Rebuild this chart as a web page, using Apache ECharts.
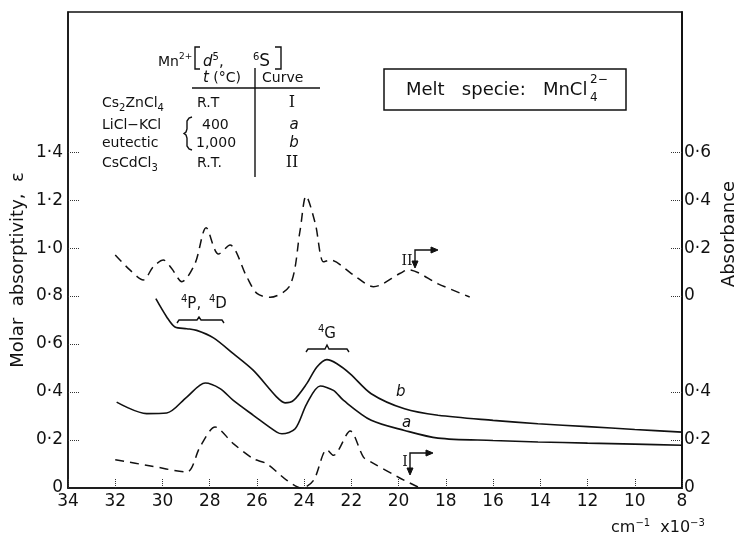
<!DOCTYPE html>
<html>
<head>
<meta charset="utf-8">
<script src="https://cdn.jsdelivr.net/npm/echarts@6/dist/echarts.min.js"></script>
<style>
  html, body { margin: 0; padding: 0; background: #fff; }
  #main { width: 742px; height: 534px; }
</style>
</head>
<body>
<div id="main"></div>
<script>
// wavenumber (cm-1 x 10^-3) and values
var bX = [30.28, 29.82, 29.47, 28.97, 28.55, 27.84, 27.0, 26.15, 25.16, 24.81, 24.45, 23.89, 23.46, 23.04, 22.61, 22.05, 21.16, 19.75, 18.33, 16, 14.1, 12, 10, 8];
var bY = [0.789, 0.713, 0.671, 0.664, 0.657, 0.626, 0.56, 0.49, 0.379, 0.355, 0.365, 0.435, 0.504, 0.535, 0.518, 0.476, 0.393, 0.33, 0.303, 0.282, 0.268, 0.256, 0.244, 0.233];

var aX = [31.94, 30.67, 29.82, 28.97, 28.19, 27.56, 27.0, 26.15, 25.16, 24.94, 24.38, 23.89, 23.32, 22.76, 22.33, 21.16, 19.75, 18.33, 16, 14.1, 12, 10, 8];
var aY = [0.358, 0.31, 0.3125, 0.379, 0.4375, 0.414, 0.365, 0.303, 0.233, 0.226, 0.247, 0.351, 0.425, 0.407, 0.365, 0.282, 0.24, 0.208, 0.198, 0.192, 0.187, 0.183, 0.178];

// curve I : absorbance (lower right scale)
var iX = [32.0, 30.5, 28.97, 28.41, 27.77, 27.0, 26.15, 25.58, 24.73, 24.1, 23.6, 23.04, 22.76, 22.05, 21.49, 21.16, 20.03, 19.18];
var iY = [0.118, 0.092, 0.067, 0.171, 0.254, 0.185, 0.122, 0.101, 0.032, 0.0, 0.032, 0.16, 0.136, 0.2375, 0.129, 0.108, 0.046, 0.004];

// curve II : absorbance (upper right scale)
var iiX = [32.0, 31.37, 30.81, 30.39, 29.96, 29.61, 29.18, 28.62, 28.15, 27.63, 27.14, 26.43, 26.0, 25.44, 24.59, 24.17, 23.92, 23.53, 23.18, 22.9, 21.91, 21.06, 19.93, 19.6, 18.33, 16.99];
var iiY = [0.171, 0.108, 0.067, 0.122, 0.15, 0.115, 0.06, 0.136, 0.285, 0.175, 0.2125, 0.08, 0.011, -0.005, 0.046, 0.275, 0.417, 0.303, 0.143, 0.15, 0.0875, 0.039, 0.095, 0.11, 0.051, -0.004];

var epsTicks = [0, 0.2, 0.4, 0.6, 0.8, 1.0, 1.2, 1.4];
var lowAbsTicks = [0, 0.2, 0.4];
var upAbsTicks = [0, 0.2, 0.4, 0.6];

var FONT = 'DejaVu Sans';
var SERIF = 'DejaVu Serif';
var INK = '#111';

function zip(xs, ys) {
    return xs.map(function (x, i) { return [x, ys[i]]; });
}
function fmt(v) {
    if (Math.abs(v) < 1e-9) return '0';
    return v.toFixed(1).replace('.', '\u00b7');
}

var supRich = {
    sup: { fontSize: 10, lineHeight: 10, verticalAlign: 'top', fontFamily: FONT, fill: INK },
    sup9: { fontSize: 9, lineHeight: 9, verticalAlign: 'top', fontFamily: FONT, fill: INK },
    sub: { fontSize: 10, lineHeight: 10, verticalAlign: 'bottom', fontFamily: FONT, fill: INK },
    it: { fontStyle: 'italic', fontFamily: FONT, fill: INK, fontSize: 15, lineHeight: 20 }
};

function txt(x, y, text, size, extra, rot) {
    var style = {
        text: text, fill: INK,
        fontSize: size || 14, fontFamily: FONT, lineHeight: 20,
        textAlign: 'left', textVerticalAlign: 'middle', rich: supRich
    };
    for (var k in (extra || {})) style[k] = extra[k];
    return { type: 'text', silent: true, x: x, y: y, rotation: rot || 0, style: style };
}
function line(pts) {
    return {
        type: 'polyline', silent: true,
        shape: { points: pts },
        style: { stroke: INK, fill: null, lineWidth: 1.4 }
    };
}
function head(pts) {
    return {
        type: 'polygon', silent: true,
        shape: { points: pts },
        style: { fill: INK, stroke: INK, lineWidth: 1 }
    };
}

var chartDom = document.getElementById('main');
var myChart = echarts.init(chartDom, null, { renderer: 'canvas' });

var tickStyle = { color: '#333', width: 1, type: 'dotted' };
var labelBase = { color: INK, fontSize: 17, fontFamily: FONT };

var option = {
    animation: false,
    backgroundColor: '#fff',
    grid: { left: 68, right: 60, top: 12, bottom: 46, show: true, borderColor: INK, borderWidth: 1.5 },
    xAxis: {
        type: 'value', inverse: true, min: 8, max: 34, interval: 2,
        axisLine: { lineStyle: { color: INK, width: 1.5 } },
        axisTick: { inside: true, length: 10, lineStyle: tickStyle },
        axisLabel: Object.assign({ margin: 5, showMinLabel: true, showMaxLabel: true }, labelBase),
        splitLine: { show: false }
    },
    yAxis: [
        {
            type: 'value', min: 0, max: 1.984,
            axisLine: { show: true, lineStyle: { color: INK, width: 1.5 } },
            axisTick: { show: true, inside: true, length: 12, lineStyle: tickStyle, customValues: epsTicks.slice(1) },
            axisLabel: Object.assign({ margin: 5, customValues: epsTicks, formatter: fmt }, labelBase),
            splitLine: { show: false }
        },
        {
            type: 'value', position: 'right', min: 0, max: 1.984,
            axisLine: { show: true, lineStyle: { color: INK, width: 1.5 } },
            axisTick: { show: true, inside: true, length: 12, lineStyle: tickStyle, customValues: lowAbsTicks.slice(1) },
            axisLabel: Object.assign({ margin: 2, customValues: lowAbsTicks, formatter: fmt }, labelBase),
            splitLine: { show: false }
        },
        {
            type: 'value', position: 'right', min: -0.8, max: 1.184,
            axisLine: { show: true, lineStyle: { color: INK, width: 1.5 } },
            axisTick: { show: true, inside: true, length: 12, lineStyle: tickStyle, customValues: upAbsTicks },
            axisLabel: Object.assign({ margin: 2, customValues: upAbsTicks, formatter: fmt }, labelBase),
            splitLine: { show: false }
        }
    ],
    series: [
        {
            name: 'b', type: 'line', yAxisIndex: 0, data: zip(bX, bY), smooth: 0.3,
            showSymbol: false, lineStyle: { color: INK, width: 1.6 }
        },
        {
            name: 'a', type: 'line', yAxisIndex: 0, data: zip(aX, aY), smooth: 0.3,
            showSymbol: false, lineStyle: { color: INK, width: 1.6 }
        },
        {
            name: 'I', type: 'line', yAxisIndex: 1, data: zip(iX, iY), smooth: 0.3,
            showSymbol: false, lineStyle: { color: INK, width: 1.5, type: [9, 6] }
        },
        {
            name: 'II', type: 'line', yAxisIndex: 2, data: zip(iiX, iiY), smooth: 0.3,
            showSymbol: false, lineStyle: { color: INK, width: 1.5, type: [9, 6] }
        }
    ],
    graphic: [
        // axis titles
        txt(18, 270, 'Molar  absorptivity,  \u03b5', 18, { textAlign: 'center' }, Math.PI / 2),
        txt(729, 234, 'Absorbance', 18, { textAlign: 'center' }, Math.PI / 2),
        txt(611, 528, 'cm{sup|\u22121}  x10{sup|\u22123}', 16),

        // legend table
        txt(158, 62, 'Mn{sup9|2+}', 14),
        line([[200, 47], [195, 47], [195, 69], [200, 69]]),
        txt(203, 62, '{it|d}{sup|5},', 15),
        txt(253, 62, '{sup|6}S', 17),
        line([[275, 47], [281, 47], [281, 69], [275, 69]]),
        txt(203, 78, '{it|t} (\u00b0C)', 14),
        txt(262, 78, 'Curve', 14),
        line([[192, 88], [320, 88]]),
        line([[255, 68], [255, 177]]),
        txt(102, 103, 'Cs{sub|2}ZnCl{sub|4}', 14),
        txt(102, 125, 'LiCl\u2212KCl', 14),
        txt(102, 143, 'eutectic', 14),
        txt(102, 163, 'CsCdCl{sub|3}', 14),
        txt(197, 103, 'R.T', 14),
        txt(202, 125, '400', 14),
        txt(196, 143, '1,000', 14),
        txt(197, 163, 'R.T.', 14),
        line([[192, 117], [189, 118], [187, 121], [187, 129], [186, 132], [184, 133.5], [186, 135], [187, 138], [187, 146], [189, 149], [192, 150]]),
        txt(292, 103, 'I', 16, { textAlign: 'center', fontFamily: SERIF }),
        txt(294, 125, '{it|a}', 14, { textAlign: 'center' }),
        txt(294, 143, '{it|b}', 14, { textAlign: 'center' }),
        txt(292, 163, 'II', 16, { textAlign: 'center', fontFamily: SERIF }),

        // melt species box
        { type: 'rect', silent: true, shape: { x: 384, y: 69, width: 242, height: 41 }, style: { fill: null, stroke: INK, lineWidth: 1.5 } },
        txt(406, 90, 'Melt   specie:   MnCl', 18),
        txt(590, 98, '4', 12),
        txt(590, 80, '2\u2212', 12),

        // peak assignments
        txt(181, 304, '{sup|4}P,', 15),
        txt(209, 304, '{sup|4}D', 15),
        line([[177, 323], [179, 320], [197, 320], [199, 317], [201, 320], [222, 320], [224, 323]]),
        txt(318, 334, '{sup|4}G', 15),
        line([[306, 352], [308, 349], [325, 349], [327, 345], [329, 349], [347, 349], [349, 352]]),
        txt(396, 392, '{it|b}', 15),
        txt(402, 423, '{it|a}', 15),

        // curve markers with arrows
        txt(407, 261, 'II', 14, { textAlign: 'center', fontFamily: SERIF }),
        line([[415, 265], [415, 250], [434, 250]]),
        head([[412, 261], [415, 268], [418, 261]]),
        head([[431, 247], [438, 250], [431, 253]]),
        txt(405, 462, 'I', 14, { textAlign: 'center', fontFamily: SERIF }),
        line([[410, 472], [410, 453], [429, 453]]),
        head([[407, 468], [410, 475], [413, 468]]),
        head([[426, 450], [433, 453], [426, 456]])
    ]
};

myChart.setOption(option);
</script>
</body>
</html>
